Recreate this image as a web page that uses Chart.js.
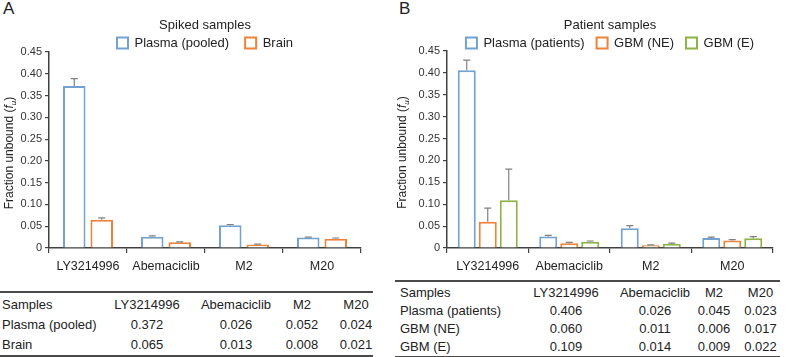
<!DOCTYPE html>
<html>
<head>
<meta charset="utf-8">
<script src="https://cdn.jsdelivr.net/npm/chart.js@4.4.1/dist/chart.umd.min.js"></script>
<style>
  body { margin: 0; background: #fff; font-family: 'Liberation Sans', Arial, sans-serif; color: #222; }
  #wrap { position: relative; width: 787px; height: 357px; overflow: hidden; }
  .panel-letter { position: absolute; top: 0; font-size: 17px; line-height: 1; color: #222; }
  .box { position: absolute; top: 0; height: 280px; }
  table { position: absolute; border-collapse: collapse; table-layout: fixed; font-size: 13px;
          border-top: 2px solid #4a4a4a; border-bottom: 2px solid #4a4a4a; }
  td { padding: 0; white-space: nowrap; text-align: center; }
  td:first-child { text-align: left; }
  #tableA { left: 0; top: 291px; width: 373px; }
  #tableA td { height: 20px; line-height: 20px; }
  #tableA td:first-child { padding-left: 2px; }
  #tableA td:last-child { padding-left: 17px; }
  #tableB { left: 395px; top: 280px; width: 385px; }
  #tableB td { height: 18px; line-height: 18px; }
  #tableB td:first-child { padding-left: 5px; }
  #tableB td:last-child { padding-left: 10px; }
  tr:first-child td { padding-top: 2px; }
</style>
</head>
<body>
<div id="wrap">
  <div class="panel-letter" style="left:3px">A</div>
  <div class="panel-letter" style="left:399px">B</div>
  <div class="box" style="left:0; width:393px"><canvas id="chartA" width="393" height="280"></canvas></div>
  <div class="box" style="left:393px; width:394px"><canvas id="chartB" width="394" height="280"></canvas></div>
  <table id="tableA"></table>
  <table id="tableB"></table>
</div>
<script>
// dados
const categories = ['LY3214996', 'Abemaciclib', 'M2', 'M20'];

const spikedPlasma = [0.372, 0.026, 0.052, 0.024];
const spikedBrain = [0.065, 0.013, 0.008, 0.021];
const spikedPlasmaErr = [0.017, 0.002, 0.002, 0.001];
const spikedBrainErr = [0.004, 0.001, 0.001, 0.002];

const patientPlasma = [0.406, 0.026, 0.045, 0.023];
const gbmNE = [0.060, 0.011, 0.006, 0.017];
const gbmE = [0.109, 0.014, 0.009, 0.022];
const patientPlasmaErr = [0.023, 0.003, 0.006, 0.002];
const gbmNEErr = [0.031, 0.002, 0.001, 0.002];
const gbmEErr = [0.071, 0.002, 0.002, 0.004];

const blue = '#72a2d1';
const orange = '#ee8238';
const green = '#8ab446';

Chart.defaults.font.family = "'Liberation Sans', Arial, sans-serif";
Chart.defaults.color = '#333';

// barras de erro (só para cima)
const errorBars = {
  id: 'errorBars',
  afterDatasetsDraw(chart) {
    const ctx = chart.ctx;
    const y = chart.scales.y;
    chart.data.datasets.forEach((ds, i) => {
      const meta = chart.getDatasetMeta(i);
      meta.data.forEach((bar, j) => {
        const top = y.getPixelForValue(ds.data[j] + ds.errors[j]);
        ctx.save();
        ctx.strokeStyle = '#808080';
        ctx.lineWidth = 1.2;
        ctx.beginPath();
        ctx.moveTo(bar.x, bar.y);
        ctx.lineTo(bar.x, top);
        ctx.moveTo(bar.x - 3.5, top);
        ctx.lineTo(bar.x + 3.5, top);
        ctx.stroke();
        ctx.restore();
      });
    });
  }
};

// título do eixo y com f itálico e u subscrito
const yTitle = {
  id: 'yTitle',
  afterDraw(chart) {
    const ctx = chart.ctx;
    const area = chart.chartArea;
    const parts = [
      { t: 'Fraction unbound (', f: '12px', dy: 0 },
      { t: 'f', f: 'italic 12px', dy: 0 },
      { t: 'u', f: 'italic 8px', dy: 3 },
      { t: ')', f: '12px', dy: 0 }
    ];
    const fam = " 'Liberation Sans', Arial, sans-serif";
    let total = 0;
    parts.forEach(p => { ctx.font = p.f + fam; p.w = ctx.measureText(p.t).width; total += p.w; });
    ctx.save();
    ctx.translate(13, (area.top + area.bottom) / 2 + 3);
    ctx.rotate(-Math.PI / 2);
    ctx.fillStyle = '#222';
    ctx.textBaseline = 'alphabetic';
    let x = -total / 2;
    parts.forEach(p => {
      ctx.font = p.f + fam;
      ctx.fillText(p.t, x, p.dy);
      x += p.w;
    });
    ctx.restore();
  }
};

function makeChart(id, title, datasets, opts) {
  return new Chart(document.getElementById(id), {
    type: 'bar',
    data: { labels: categories, datasets: datasets },
    plugins: [errorBars, yTitle],
    options: {
      responsive: false,
      animation: false,
      categoryPercentage: opts.catPct,
      barPercentage: opts.barPct,
      layout: { padding: { left: 0, right: opts.padRight, top: 0, bottom: 0 } },
      plugins: {
        title: {
          display: true,
          text: title,
          fullSize: false,
          color: '#222',
          font: { size: 13, weight: 'normal' },
          padding: { top: 18, bottom: opts.titleBottom }
        },
        legend: {
          fullSize: false,
          maxHeight: opts.legendHeight,
          labels: {
            boxWidth: 11,
            boxHeight: 11,
            padding: opts.legendPad,
            color: '#222',
            font: { size: 13 }
          }
        },
        tooltip: { enabled: false }
      },
      scales: {
        x: {
          afterFit(scale) { scale.height = 32; },
          border: { display: true, color: '#404040', width: 1.5 },
          grid: { display: true, offset: true, drawOnChartArea: false, drawTicks: true, tickLength: 5, color: '#404040', lineWidth: 1.2 },
          ticks: { padding: 6, color: '#222', font: { size: 12.5 } }
        },
        y: {
          min: 0,
          max: 0.45,
          afterFit(scale) { scale.width = opts.axisLeft; },
          border: { display: true, color: '#404040', width: 1.5 },
          grid: { drawOnChartArea: false, drawTicks: true, tickLength: 4, color: '#404040', lineWidth: 1.2 },
          ticks: {
            stepSize: 0.05,
            padding: 3,
            color: '#333',
            font: { size: 11 },
            callback: v => (v === 0 ? '0' : v.toFixed(2))
          }
        }
      }
    }
  });
}

function ds(label, data, errors, color) {
  return {
    label: label,
    data: data,
    errors: errors,
    backgroundColor: '#ffffff',
    borderColor: color,
    borderWidth: 2
  };
}

makeChart('chartA', 'Spiked samples', [
  ds('Plasma (pooled)', spikedPlasma, spikedPlasmaErr, blue),
  ds('Brain', spikedBrain, spikedBrainErr, orange)
], { catPct: 0.705, barPct: 0.82, padRight: 32, axisLeft: 49, legendPad: 16, titleBottom: -13.1, legendHeight: 31.5 });

makeChart('chartB', 'Patient samples', [
  ds('Plasma (patients)', patientPlasma, patientPlasmaErr, blue),
  ds('GBM (NE)', gbmNE, gbmNEErr, orange),
  ds('GBM (E)', gbmE, gbmEErr, green)
], { catPct: 0.773, barPct: 0.857, padRight: 14, axisLeft: 54, legendPad: 12, titleBottom: -9.1, legendHeight: 26.5 });

// tabelas abaixo dos gráficos
function fillTable(id, rows, widths) {
  const table = document.getElementById(id);
  const cg = document.createElement('colgroup');
  widths.forEach(w => {
    const col = document.createElement('col');
    col.style.width = w + 'px';
    cg.appendChild(col);
  });
  table.appendChild(cg);
  const body = document.createElement('tbody');
  rows.forEach(r => {
    const tr = document.createElement('tr');
    r.forEach(c => {
      const td = document.createElement('td');
      td.textContent = c;
      tr.appendChild(td);
    });
    body.appendChild(tr);
  });
  table.appendChild(body);
}

const fmt = v => v.toFixed(3);

fillTable('tableA', [
  ['Samples'].concat(categories),
  ['Plasma (pooled)'].concat(spikedPlasma.map(fmt)),
  ['Brain'].concat(spikedBrain.map(fmt))
], [104, 86, 92, 40, 51]);

fillTable('tableB', [
  ['Samples'].concat(categories),
  ['Plasma (patients)'].concat(patientPlasma.map(fmt)),
  ['GBM (NE)'].concat(gbmNE.map(fmt)),
  ['GBM (E)'].concat(gbmE.map(fmt))
], [124, 94, 84, 34, 49]);
</script>
</body>
</html>
